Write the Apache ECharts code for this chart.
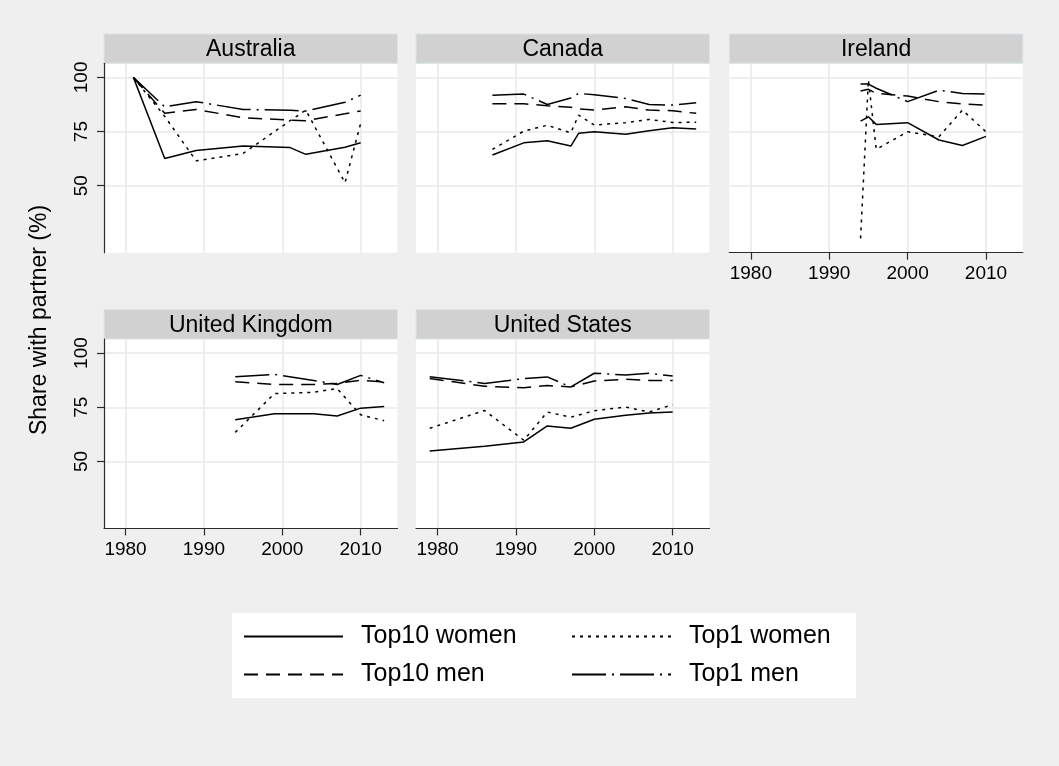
<!DOCTYPE html>
<html>
<head>
<meta charset="utf-8">
<title>Share with partner</title>
<script src="https://cdn.jsdelivr.net/npm/echarts@6/dist/echarts.min.js"></script>
<style>
  html, body { margin: 0; padding: 0; background: #efefef; }
  #chart { width: 1059px; height: 766px; }
</style>
</head>
<body>
<div id="chart"></div>
<script>
// series names / panels
const seriesNames = ["Top10 women", "Top1 women", "Top10 men", "Top1 men"];
const countries = ["Australia", "Canada", "Ireland", "United Kingdom", "United States"];

// tick labels
const xTicks = [1980, 1990, 2000, 2010];
const yTicks = [50, 75, 100];

// Australia
const ausYears = [1981, 1985, 1989, 1995, 2001, 2003, 2008, 2010];
const ausTop10Women = [100, 62.6, 66.3, 68.3, 67.6, 64.5, 67.8, 69.8];
const ausTop1Women = [100, 82, 61.5, 64.9, 80, 84.9, 51.4, 78.8];
const ausTop10Men = [100, 83.4, 85.2, 81.4, 80.3, 80, 83.2, 84.5];
const ausTop1Men = [100, 86.4, 88.8, 85.2, 84.8, 84.5, 88.5, 91.8];

// Canada
const canYears = [1987, 1991, 1994, 1997, 1998, 2000, 2004, 2007, 2010, 2013];
const canTop10Women = [64.2, 69.8, 70.8, 68.3, 74.2, 74.9, 73.8, 75.4, 76.8, 76.2];
const canTop1Women = [66.8, 75.2, 77.9, 74.4, 82.6, 78, 79.1, 80.6, 79.2, 79.3];
const canTop10Men = [87.8, 87.8, 86.9, 86.2, 85.5, 84.9, 86.4, 84.9, 84.6, 83.4];
const canTop1Men = [91.8, 92.3, 87.5, 90.5, 92.6, 92, 90.3, 87.5, 87.2, 88.3];

// Ireland
const irlYears = [1994, 1995, 1996, 2000, 2004, 2007, 2010];
const irlTop10Women = [79.8, 81.8, 78.3, 79.1, 71.1, 68.6, 72.8];
const irlTop1Women = [25.7, 98.8, 66.8, 74.9, 72.6, 84.9, 74.9];
const irlTop10Men = [93.7, 94.5, 92.6, 91.4, 88.8, 87.7, 87.2];
const irlTop1Men = [96.9, 96.9, 95, 88.8, 94.1, 92.6, 92.3];

// United Kingdom
const gbrYears = [1994, 1999, 2004, 2007, 2010, 2013];
const gbrTop10Women = [69.2, 72, 72, 71, 74.6, 75.4];
const gbrTop1Women = [63.4, 81.3, 81.9, 83.6, 71.5, 68.8];
const gbrTop10Men = [86.8, 85.5, 85.5, 86, 87.5, 86.6];
const gbrTop1Men = [89.1, 90.2, 87.4, 85.5, 89.7, 86.3];

// United States
const usaYears = [1979, 1986, 1991, 1994, 1997, 2000, 2004, 2007, 2010];
const usaTop10Women = [54.8, 57, 59, 66.4, 65.3, 69.5, 71.3, 72.4, 72.8];
const usaTop1Women = [65.3, 73.5, 59.8, 72.8, 70.4, 73.4, 75.1, 72.8, 76.2];
const usaTop10Men = [88.3, 84.7, 84, 85, 84.4, 87.1, 87.9, 87.4, 87.4];
const usaTop1Men = [89.1, 86, 88.2, 89, 84.4, 90.7, 89.9, 90.7, 89.4];

const countryData = [
  [ausYears, [ausTop10Women, ausTop1Women, ausTop10Men, ausTop1Men]],
  [canYears, [canTop10Women, canTop1Women, canTop10Men, canTop1Men]],
  [irlYears, [irlTop10Women, irlTop1Women, irlTop10Men, irlTop1Men]],
  [gbrYears, [gbrTop10Women, gbrTop1Women, gbrTop10Men, gbrTop1Men]],
  [usaYears, [usaTop10Women, usaTop1Women, usaTop10Men, usaTop1Men]],
];

// layout
const FONT = "'Liberation Sans', Arial, Helvetica, sans-serif";
const colLeft = [104, 416, 729.3];
const rowTop = [63.3, 339];
const panelW = 293.5;
const panelH = 189.4;
const headerH = 29.3;
const panelPos = [[0, 0], [1, 0], [2, 0], [0, 1], [1, 1]];
const dashes = ["solid", [3, 5], [14, 8], [34, 6, 2, 6]];

const grids = [];
const xAxes = [];
const yAxes = [];
const series = [];
const graphics = [];

countries.forEach((name, i) => {
  const [c, r] = panelPos[i];
  const showY = c === 0;
  const showX = r === 1 || c === 2;
  grids.push({
    left: colLeft[c],
    top: rowTop[r],
    width: panelW,
    height: panelH,
    show: true,
    backgroundColor: "#ffffff",
    borderWidth: 0,
  });
  xAxes.push({
    gridIndex: i,
    type: "value",
    min: 1977.25,
    max: 2014.7,
    axisLine: { show: showX, onZero: false, lineStyle: { color: "#2b2b2b", width: 1.2 } },
    axisTick: { show: showX, length: 7, customValues: xTicks, lineStyle: { color: "#2b2b2b", width: 1.2 } },
    axisLabel: {
      show: showX,
      customValues: xTicks,
      formatter: (v) => String(v),
      fontSize: 19,
      color: "#000",
      margin: 12,
      fontFamily: FONT,
    },
    splitLine: { show: true, lineStyle: { color: "#e9e9e9", width: 1.5 } },
  });
  yAxes.push({
    gridIndex: i,
    type: "value",
    min: 19.1,
    max: 106.5,
    axisLine: { show: showY, onZero: false, lineStyle: { color: "#2b2b2b", width: 1.2 } },
    axisTick: { show: showY, length: 7, customValues: yTicks, lineStyle: { color: "#2b2b2b", width: 1.2 } },
    axisLabel: { show: showY, customValues: yTicks, rotate: 90, fontSize: 19, color: "#000", margin: 13, fontFamily: FONT },
    splitLine: { show: true, lineStyle: { color: "#e9e9e9", width: 1.5 } },
  });

  // header strip
  graphics.push({
    type: "rect",
    shape: { x: colLeft[c], y: rowTop[r] - headerH, width: panelW, height: headerH },
    style: { fill: "#d1d1d1", stroke: "#dae3e7", lineWidth: 1 },
  });
  graphics.push({
    type: "text",
    x: colLeft[c] + panelW / 2,
    y: rowTop[r] - headerH / 2 + 1,
    style: { text: name, fill: "#000", font: "23px " + FONT, align: "center", verticalAlign: "middle" },
  });

  const [years, vals] = countryData[i];
  seriesNames.forEach((sn, k) => {
    series.push({
      name: sn,
      type: "line",
      xAxisIndex: i,
      yAxisIndex: i,
      symbol: "none",
      showSymbol: false,
      animation: false,
      color: "#000",
      lineStyle: { color: "#000", width: 1.5, type: dashes[k] },
      data: years.map((y, j) => [y, vals[k][j]]),
    });
  });
});

// y title
graphics.push({
  type: "text",
  x: 40,
  y: 320,
  rotation: Math.PI / 2,
  style: { text: "Share with partner (%)", fill: "#000", font: "23px " + FONT, align: "center", verticalAlign: "middle" },
});

// legend box
graphics.push({
  type: "rect",
  z: -1,
  shape: { x: 232, y: 613, width: 624, height: 85 },
  style: { fill: "#ffffff" },
});

const legendPos = [[243, 624], [571, 624], [243, 662], [571, 662]];
const legends = seriesNames.map((sn, k) => ({
  data: [sn],
  left: legendPos[k][0],
  top: legendPos[k][1],
  padding: 0,
  itemWidth: 99,
  itemHeight: 14,
  selectedMode: false,
  itemStyle: { opacity: 0 },
  textStyle: { fontSize: 25, color: "#000", fontFamily: FONT, padding: [0, 0, 0, 13] },
}));

const chart = echarts.init(document.getElementById("chart"));
chart.setOption({
  backgroundColor: "#efefef",
  animation: false,
  grid: grids,
  xAxis: xAxes,
  yAxis: yAxes,
  legend: legends,
  graphic: graphics,
  series: series,
});

window.onresize = function () {
  chart.resize();
};
</script>
</body>
</html>
